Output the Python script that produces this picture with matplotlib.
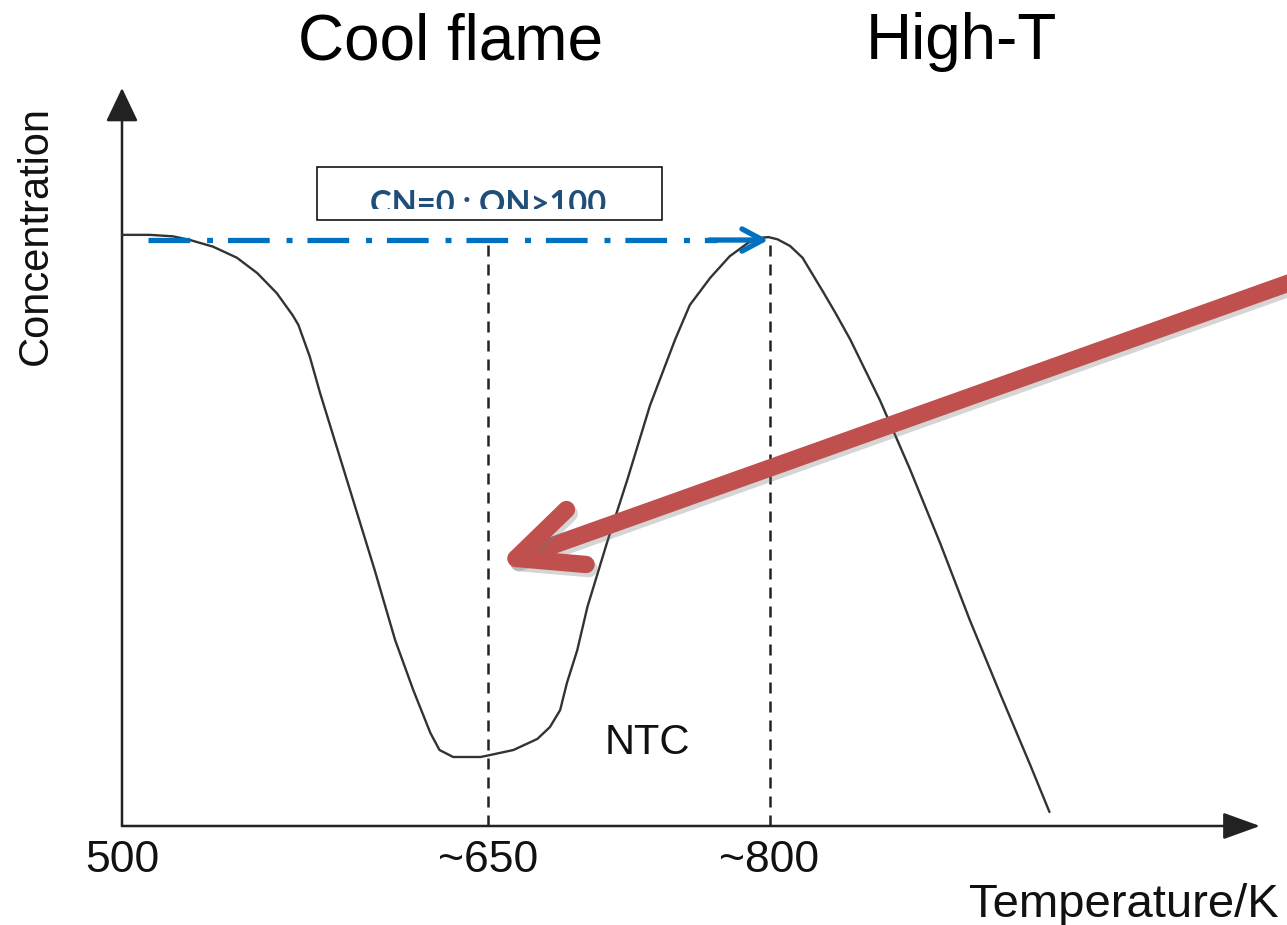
import matplotlib
matplotlib.use("Agg")
import matplotlib.pyplot as plt
from matplotlib.patches import FancyArrowPatch, Rectangle, ArrowStyle
from matplotlib.transforms import Bbox, TransformedBbox
import matplotlib.patheffects as pe

# ---------------- data (schematic units: x 0-100 along T axis, y 0-100 concentration) ----
curve_x = [0.0, 2.46, 4.48, 5.98, 8.0, 10.1, 11.9, 13.6, 15.0, 15.5, 16.5, 17.4, 20.3,
           22.2, 24.0, 25.6, 27.1, 27.9, 29.1, 31.5, 32.3, 34.4, 36.5, 37.6, 38.5, 39.1,
           40.0, 40.9, 42.6, 44.4, 46.4, 48.6, 49.9, 51.7, 53.4, 55.0, 56.1, 56.8, 57.6,
           58.7, 59.8, 60.7, 61.6, 62.7, 64.0, 66.6, 69.2, 71.9, 74.5, 77.2, 79.8, 81.5]
curve_y = [80.1, 80.1, 79.9, 79.4, 78.5, 77.0, 74.9, 72.2, 69.2, 67.9, 63.6, 58.7, 44.2,
           34.7, 25.2, 18.4, 12.6, 10.3, 9.35, 9.35, 9.6, 10.3, 11.8, 13.4, 15.7, 19.4,
           23.8, 29.7, 38.3, 46.9, 57.0, 65.9, 70.6, 74.3, 77.2, 79.0, 79.7, 79.8, 79.5,
           78.6, 77.0, 74.7, 72.4, 69.5, 65.9, 57.7, 48.5, 38.3, 27.9, 17.8, 8.3, 1.9]

tick_pos = [0.0, 32.2, 56.9]
tick_labels = ["500", "~650", "~800"]

vline_x = [32.2, 56.9]
vline_top = [79.3, 79.8]

ref_level_x = [2.3, 56.8]      # CN=0 : ON>100 reference line
ref_level_y = 79.4

red_arrow_tail = (105.3, 75.1)
red_arrow_tip = (32.9, 35.3)

ntc_pos = (46.2, 9.76)

W, H = 1287, 925
fig = plt.figure(figsize=(W / 100, H / 100), dpi=100)
fig.patch.set_facecolor("white")
ax = fig.add_axes([122 / W, (H - 826) / H, 1138 / W, 738 / H])
ax.set_xlim(0, 100)
ax.set_ylim(0, 100)
for s in ax.spines.values():
    s.set_visible(False)
ax.set_yticks([])
ax.set_xticks(tick_pos, tick_labels)
ax.tick_params(axis="x", length=0, pad=10, labelsize=32, labelcolor="#111111")
for lab in ax.get_xticklabels():
    lab.set_fontfamily("Liberation Sans")

axis_col = "#222222"
# axes with arrowheads
ax.annotate("", xy=(1, 0), xytext=(0, 0), xycoords="axes fraction", textcoords="axes fraction",
            arrowprops=dict(arrowstyle=ArrowStyle("-|>", head_length=23, head_width=8.3),
                            mutation_scale=1, lw=1.8, color=axis_col, shrinkA=0, shrinkB=0),
            annotation_clip=False)
ax.annotate("", xy=(0, 1), xytext=(0, 0), xycoords="axes fraction", textcoords="axes fraction",
            arrowprops=dict(arrowstyle=ArrowStyle("-|>", head_length=21, head_width=10),
                            mutation_scale=1, lw=1.8, color=axis_col, shrinkA=0, shrinkB=0),
            annotation_clip=False)

# vertical dashed guides
for xv, yt in zip(vline_x, vline_top):
    ax.plot([xv, xv], [0, yt], color="#222222", lw=1.8, linestyle=(0, (4.4, 3.2)),
            clip_on=False, zorder=2)

# main curve
ax.plot(curve_x, curve_y, color="#333333", lw=1.7, clip_on=False, zorder=3,
        solid_joinstyle="round", solid_capstyle="round")

# blue dash-dot reference line with arrowhead
blue = "#0070C0"
ax.plot([ref_level_x[0], ref_level_x[1] - 4.5], [ref_level_y, ref_level_y], color=blue, lw=3.8,
        linestyle=(0, (7.9, 3.2, 1.13, 2.83)), zorder=4)
ax.annotate("", xy=(ref_level_x[1], ref_level_y), xytext=(ref_level_x[1] - 5.2, ref_level_y),
            arrowprops=dict(arrowstyle=ArrowStyle("->", head_length=15, head_width=8),
                            mutation_scale=1, lw=3.8, color=blue, shrinkA=0, shrinkB=0),
            zorder=4)

# box with clipped text
bx0, bx1, by0, by1 = 17.14, 47.45, 82.11, 89.30
ax.add_patch(Rectangle((bx0, by0), bx1 - bx0, by1 - by0, fill=False, edgecolor="black",
                       lw=1.1, clip_on=False, zorder=5))
t = ax.text(32.2, 82.9, "CN=0 : ON>100", ha="center", va="baseline", fontsize=23.5,
            fontweight="bold", family="Lato", color="#1F4E79", zorder=6)
t.set_clip_box(TransformedBbox(Bbox([[bx0, 83.6], [bx1, by1]]), ax.transData))
t.set_clip_on(True)

# NTC label
ax.text(ntc_pos[0], ntc_pos[1], "NTC", ha="center", va="baseline", fontsize=30,
        family="Liberation Sans", color="#111111")

# red arrow
red = FancyArrowPatch(red_arrow_tail, red_arrow_tip,
                      arrowstyle=ArrowStyle("->", head_length=46, head_width=21),
                      mutation_scale=1, lw=12.5, color="#C0504D", shrinkA=0, shrinkB=0,
                      capstyle="round", joinstyle="round", clip_on=False, zorder=7)
red.set_path_effects([pe.SimpleLineShadow(offset=(2, -3), shadow_color="#777777", alpha=0.3),
                      pe.Normal()])
ax.add_patch(red)

# texts
fig.text(451 / W, 1 - 59 / H, "Cool flame", ha="center", va="baseline", fontsize=46,
         family="Liberation Sans", color="black")
fig.text(961 / W, 1 - 59 / H, "High-T", ha="center", va="baseline", fontsize=46,
         family="Liberation Sans", color="black")
fig.text(1279 / W, 1 - 917 / H, "Temperature/K", ha="right", va="baseline", fontsize=34,
         family="Liberation Sans", color="#111111")
fig.text(36 / W, 1 - 235 / H, "Concentration", ha="center", va="center", rotation=90,
         fontsize=30, family="Liberation Sans", color="#111111")

fig.savefig("out.png", dpi=100, facecolor="white")
